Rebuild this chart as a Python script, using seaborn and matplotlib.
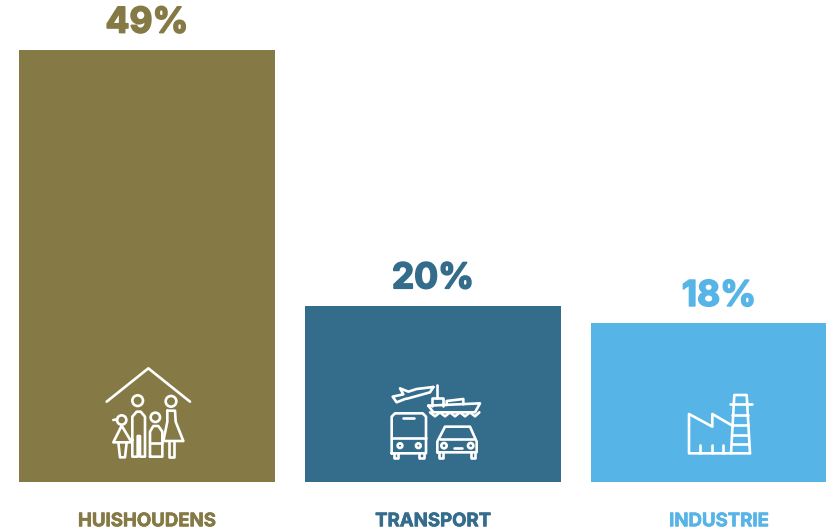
import matplotlib
matplotlib.use("Agg")
import matplotlib.pyplot as plt
from matplotlib.lines import Line2D
from matplotlib.patches import Circle
from matplotlib.patheffects import withStroke
from matplotlib.transforms import Affine2D
import pandas as pd
import seaborn as sns

categories = ["HUISHOUDENS", "TRANSPORT", "INDUSTRIE"]
shares = [49, 20, 18]
colors = ["#857945", "#346C8B", "#57B4E7"]

W, H = 826, 531
sns.set_theme(style="white")
plt.rcParams["font.family"] = ["Inter", "DejaVu Sans"]

fig = plt.figure(figsize=(W / 100, H / 100), dpi=100)
ax = fig.add_axes([0, 49 / H, 1, 482 / H])

df = pd.DataFrame({"category": categories, "share": shares})
sns.barplot(data=df, x="category", y="share", hue="category", palette=colors,
            width=0.897, saturation=1, linewidth=0, legend=False, ax=ax)

ax.set_xlim(-0.514, 2.374)
ax.set_ylim(0, 54.67)
ax.set_xlabel("")
ax.set_ylabel("")
ax.set_yticks([])
sns.despine(ax=ax, left=True, bottom=True)

# categorie labels onder de balken
ax.tick_params(axis="x", length=0, pad=22.5)
for tick, col in zip(ax.get_xticklabels(), colors):
    tick.set_color(col)
    tick.set_fontweight("bold")
    tick.set_fontsize(13.4)
    tick.set_path_effects([withStroke(linewidth=0.5, foreground=col)])

# percentages boven de balken
for cont, col, share in zip(ax.containers, colors, shares):
    labels = ax.bar_label(cont, labels=[f"{share}%"], color=col, fontsize=25.5,
                          fontweight="bold", padding=7.5)
    for lab in labels:
        lab.set_path_effects([withStroke(linewidth=1.2, foreground=col)])

# iconen, getekend in pixels van de referentie (y omlaag)
px = Affine2D().scale(1, -1).translate(0, H)


def line(x0, y0, pts, close=False, lw=1.9):
    xs = [x0 + p[0] / 3 for p in pts]
    ys = [y0 + p[1] / 3 for p in pts]
    if close:
        xs.append(xs[0])
        ys.append(ys[0])
    fig.add_artist(Line2D(xs, ys, color="white", lw=lw, transform=px,
                          solid_joinstyle="round", solid_capstyle="round"))


def ring(x0, y0, c, r, lw=1.9):
    fig.add_artist(Circle((x0 + c[0] / 3, y0 + c[1] / 3), r / 3, fill=False,
                          ec="white", lw=lw, transform=px))


# gezin
x0, y0 = 90, 360
line(x0, y0, [(50, 125), (175, 25), (300, 125)])
ring(x0, y0, (143, 122), 16)
line(x0, y0, [(127, 240), (127, 170), (140, 155), (152, 155), (165, 170), (165, 290),
              (150, 290), (150, 228), (143, 228), (143, 290), (127, 290)], close=True)
ring(x0, y0, (243, 124), 16)
line(x0, y0, [(232, 152), (255, 152), (257, 185), (280, 243), (220, 243), (232, 185)], close=True)
line(x0, y0, [(236, 243), (236, 292), (252, 292), (252, 243)])
ring(x0, y0, (95, 180), 14)
line(x0, y0, [(70, 180), (82, 178)])
line(x0, y0, [(95, 197), (125, 247), (70, 247)], close=True)
line(x0, y0, [(85, 247), (90, 292), (105, 292), (110, 247)])
ring(x0, y0, (196, 172), 14)
line(x0, y0, [(180, 290), (180, 215), (190, 198), (205, 198), (217, 215), (217, 290)], close=True)
line(x0, y0, [(180, 250), (217, 250)])

# vervoer
x0, y0 = 380, 375
line(x0, y0, [(160, 36), (110, 42), (85, 50), (60, 40), (70, 58), (38, 65), (50, 82),
              (75, 72), (85, 70), (150, 52)], close=True)
line(x0, y0, [(145, 92), (300, 85), (285, 112), (160, 112)], close=True)
line(x0, y0, [(155, 92), (155, 68), (188, 68), (188, 92)])
line(x0, y0, [(200, 90), (200, 78), (250, 72), (250, 88)])
line(x0, y0, [(170, 30), (170, 68)])
line(x0, y0, [(150, 112), (165, 124), (180, 112), (195, 124), (210, 112), (225, 124),
              (240, 112), (255, 124), (270, 112), (285, 124), (298, 112)])
line(x0, y0, [(35, 235), (35, 125), (45, 115), (128, 115), (138, 125), (138, 235)], close=True)
line(x0, y0, [(35, 190), (138, 190)])
line(x0, y0, [(70, 128), (103, 128)])
ring(x0, y0, (60, 212), 7)
ring(x0, y0, (115, 212), 7)
line(x0, y0, [(42, 235), (42, 250), (55, 250), (55, 235)])
line(x0, y0, [(118, 235), (118, 250), (131, 250), (131, 235)])
line(x0, y0, [(172, 232), (172, 200), (195, 155), (270, 155), (290, 200), (290, 232)], close=True)
line(x0, y0, [(180, 192), (282, 192)])
ring(x0, y0, (192, 212), 8)
ring(x0, y0, (272, 212), 8)
line(x0, y0, [(222, 220), (245, 220)])
line(x0, y0, [(176, 232), (176, 250), (188, 250), (188, 232)])
line(x0, y0, [(274, 232), (274, 250), (286, 250), (286, 232)])

# fabriek
x0, y0 = 675, 385
line(x0, y0, [(172, 122), (112, 87), (112, 125), (42, 87), (42, 205), (225, 205)])
line(x0, y0, [(168, 205), (178, 30), (215, 30), (225, 205)])
line(x0, y0, [(165, 58), (230, 58)])
for y in [90, 120, 150, 178]:
    line(x0, y0, [(172, y), (220, y)])
for x in [75, 110, 145]:
    line(x0, y0, [(x, 205), (x, 180)])

fig.savefig("out.png", dpi=100, facecolor="white")
